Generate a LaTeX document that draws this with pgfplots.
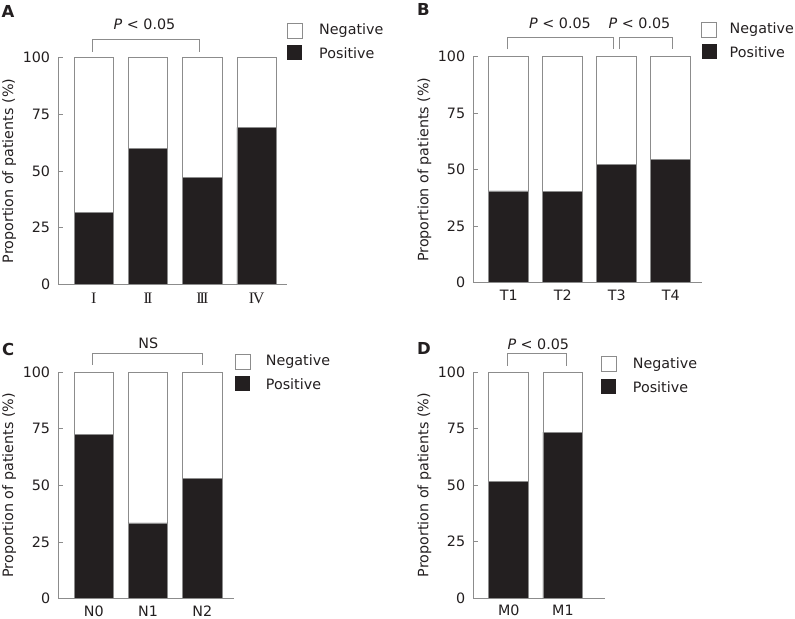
\documentclass[border=0pt]{standalone}
\usepackage{fontspec}
\setmainfont{DejaVu Sans}
\newfontfamily\rmn{Liberation Serif}
\usepackage{pgfplots}
\pgfplotsset{compat=1.18}
\definecolor{posc}{HTML}{231F20}
\definecolor{lg}{HTML}{8C8C8C}
\definecolor{tx}{HTML}{231F20}
\newcommand\fsz{\fontsize{14.3bp}{17bp}\selectfont}
\newcommand\rfs{\fontsize{16bp}{18bp}\selectfont\rmn}
\pgfplotsset{
  panel/.style={
    scale only axis, anchor=south west,
    ybar stacked, ymin=0, ymax=100,
    axis lines=left,
    axis line style={-, draw=lg, line width=0.9bp},
    ytick={0,25,50,75,100},
    tick align=inside, major tick length=5bp,
    ytick style={draw=lg, line width=0.9bp},
    xtick style={draw=none},
    xtick=data,
    /pgf/number format/assume math mode=true,
    tick label style={font=\fsz, text=tx},
    yticklabel style={anchor=east, inner sep=0pt, xshift=-8bp},
    xticklabel style={anchor=base, inner sep=0pt, yshift=-17.5bp},
    ylabel={Proportion of patients (\%)},
    ylabel style={font=\fsz, text=tx, at={(axis description cs:0,0.5)}, anchor=center, rotate=0, yshift=49bp},
    clip=false,
  },
  posbar/.style={fill=posc, draw=lg, line width=0.8bp},
  negbar/.style={fill=white, draw=lg, line width=0.8bp},
}
\newcommand\mylegend[3]{% box left x, y center of Negative, text x
  \draw[lg, line width=0.8bp, fill=white] (#1,#2-7.5) rectangle ++(15,15);
  \fill[posc] (#1,#2-30) rectangle ++(15,15);
  \node[anchor=west, inner sep=0pt, font=\fsz, text=tx] at (#3,#2) {Negative};
  \node[anchor=west, inner sep=0pt, font=\fsz, text=tx] at (#3,#2-22.7) {Positive};
}
\newcommand\bracket[4]{% x1, x2, top y, bottom y
  \draw[lg, line width=0.9bp] (#1,#4) -- (#1,#3) -- (#2,#3) -- (#2,#4);
}
\begin{document}
\begin{tikzpicture}[x=1bp,y=1bp]
\useasboundingbox (0,0) rectangle (795,619);

% Panel A
\begin{axis}[panel, at={(58.3bp,334.7bp)}, width=228.7bp, height=226.6bp,
  xmin=-0.654, xmax=3.56, bar width=0.724,
  xticklabels={{\rfs I}, {\rfs I\kern-2bp I}, {\rfs I\kern-2bp I\kern-2bp I}, {\rfs I\kern-1.5bp V}},
  xticklabel style={yshift=-1.5bp}]
\addplot[posbar] coordinates {(0,31.8) (1,60.0) (2,47.2) (3,69.3)};
\addplot[negbar] coordinates {(0,68.2) (1,40.0) (2,52.8) (3,30.7)};
\end{axis}

% Panel B
\begin{axis}[panel, at={(473.3bp,336.3bp)}, width=228.4bp, height=226bp,
  xmin=-0.656, xmax=3.574, bar width=0.735,
  xticklabels={T1, T2, T3, T4}]
\addplot[posbar] coordinates {(0,40.6) (1,40.3) (2,52.2) (3,54.6)};
\addplot[negbar] coordinates {(0,59.4) (1,59.7) (2,47.8) (3,45.4)};
\end{axis}

% Panel C
\begin{axis}[panel, at={(58.3bp,20.3bp)}, width=176bp, height=226.7bp,
  xmin=-0.654, xmax=2.589, bar width=0.724,
  xticklabels={N0, N1, N2}]
\addplot[posbar] coordinates {(0,72.5) (1,33.4) (2,53.2)};
\addplot[negbar] coordinates {(0,27.5) (1,66.6) (2,46.8)};
\end{axis}

% Panel D
\begin{axis}[panel, at={(473.3bp,20.7bp)}, width=131.7bp, height=226.3bp,
  xmin=-0.654, xmax=1.778, bar width=0.735,
  xticklabels={M0, M1}]
\addplot[posbar] coordinates {(0,51.6) (1,73.4)};
\addplot[negbar] coordinates {(0,48.4) (1,26.6)};
\end{axis}

% Panel letters
\node[font=\fontsize{16.5bp}{18bp}\selectfont\bfseries, text=tx] at (8,608) {A};
\node[font=\fontsize{16.5bp}{18bp}\selectfont\bfseries, text=tx] at (423.5,610) {B};
\node[font=\fontsize{16.5bp}{18bp}\selectfont\bfseries, text=tx] at (8.3,270) {C};
\node[font=\fontsize{16.5bp}{18bp}\selectfont\bfseries, text=tx] at (424,270.7) {D};

% Significance annotations
\node[font=\fsz, text=tx] at (144.5,594.5) {\textit{P} < 0.05};
\bracket{92.3}{199}{579.7}{567.3}
\node[font=\fsz, text=tx] at (560,595.7) {\textit{P} < 0.05};
\node[font=\fsz, text=tx] at (639.5,595.7) {\textit{P} < 0.05};
\bracket{507.3}{613.3}{581.3}{569.7}
\bracket{619}{672.7}{581.3}{569.7}
\node[font=\fsz, text=tx] at (148.3,275.2) {NS};
\bracket{92.3}{202.3}{265.7}{254}
\node[font=\fsz, text=tx] at (538.3,275) {\textit{P} < 0.05};
\bracket{507.3}{566.7}{265.7}{253}

% Legends
\mylegend{287}{588.5}{319}
\mylegend{701.5}{589.5}{729.5}
\mylegend{235.3}{257.5}{265.7}
\mylegend{601.3}{254.8}{632.7}
\end{tikzpicture}
\end{document}
